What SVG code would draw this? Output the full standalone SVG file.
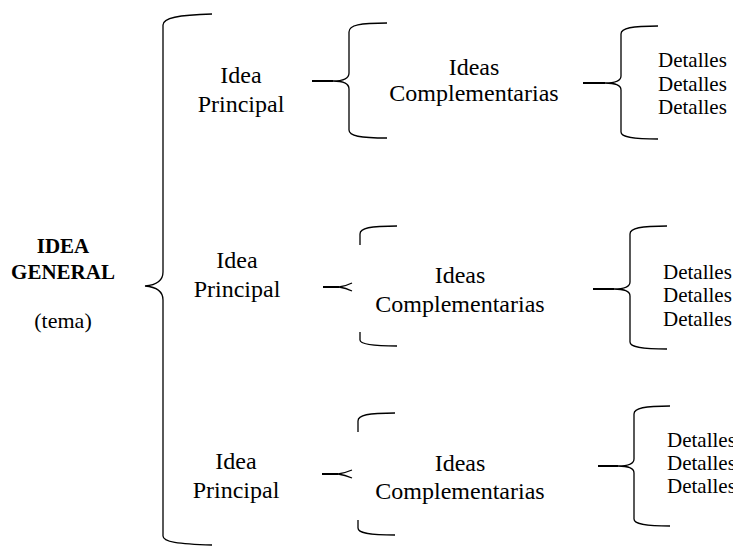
<svg xmlns="http://www.w3.org/2000/svg" width="733" height="549" viewBox="0 0 733 549">
<style>
  .t { font-family: "Liberation Serif", "Times New Roman", serif; font-size: 24px; fill: #000; text-anchor: middle; }
  .b { font-weight: bold; font-size: 21px; }
  .s { font-size: 22px; }
  .d { font-family: "Liberation Serif", "Times New Roman", serif; font-size: 21px; fill: #000; }
  .br { fill: none; stroke: #000; stroke-width: 1.3; }
  .ln { fill: none; stroke: #000; stroke-width: 2; }
</style>
<rect width="733" height="549" fill="#fff"/>
<g id="connectors">
  <!-- main brace -->
  <path class="br" d="M212,14 C178,15 163,18 163,25 L163,272 C163,281 157,285 145,286 C157,287 163,291 163,300 L163,536 C163,542 178,544 212,545"/>
  <!-- brace row 1 -->
  <path class="ln" d="M312,81 L333,81"/>
  <path class="br" d="M387,23 C360,23 349,25 349,32 L349,73 C349,79 343,81 333,81 C343,81 349,83 349,89 L349,130 C349,136 360,138 387,138"/>
  <path class="ln" d="M583,83 L605,83"/>
  <path class="br" d="M658,26 C632,26 621,28 621,34 L621,76 C621,81 615,83 605,83 C615,83 621,85 621,90 L621,132 C621,137 632,139 658,139"/>
  <!-- brace row 2 -->
  <path class="ln" d="M323,287 L339,287"/>
  <path class="br" d="M339,287 Q346,286 352,283 M339,287 Q346,288 352,291"/>
  <path class="br" d="M397,226 C370,226 360,228 360,234 L360,245 M360,332 L360,340 C360,344 370,346 397,346"/>
  <path class="ln" d="M593,289 L614,289"/>
  <path class="br" d="M667,226 C641,226 630,228 630,234 L630,282 C630,287 624,289 614,289 C624,289 630,291 630,296 L630,342 C630,347 641,349 667,349"/>
  <!-- brace row 3 -->
  <path class="ln" d="M322,474 L338,474"/>
  <path class="br" d="M338,474 Q345,473 352,470 M338,474 Q345,475 352,478"/>
  <path class="br" d="M395,413 C368,413 358,415 358,421 L358,432 M358,520 L358,528 C358,533 368,535 395,535"/>
  <path class="ln" d="M598,466 L618,466"/>
  <path class="br" d="M670,406 C645,406 634,408 634,414 L634,459 C634,464 628,466 618,466 C628,466 634,468 634,473 L634,519 C634,524 645,526 670,526"/>
</g>
<g id="idea-general">
  <text class="t b" x="63" y="253">IDEA</text>
  <text class="t b" x="63" y="279">GENERAL</text>
  <text class="t s" x="63" y="328">(tema)</text>
</g>
<g id="idea-principal-1">
  <text class="t" x="241" y="83">Idea</text>
  <text class="t" x="241" y="112">Principal</text>
</g>
<g id="ideas-complementarias-1">
  <text class="t" x="474" y="75">Ideas</text>
  <text class="t" x="474" y="101">Complementarias</text>
</g>
<g id="detalles-1">
  <text class="d" x="658" y="67">Detalles</text>
  <text class="d" x="658" y="91">Detalles</text>
  <text class="d" x="658" y="114">Detalles</text>
</g>
<g id="idea-principal-2">
  <text class="t" x="237" y="268">Idea</text>
  <text class="t" x="237" y="297">Principal</text>
</g>
<g id="ideas-complementarias-2">
  <text class="t" x="460" y="283">Ideas</text>
  <text class="t" x="460" y="312">Complementarias</text>
</g>
<g id="detalles-2">
  <text class="d" x="663" y="279">Detalles</text>
  <text class="d" x="663" y="302">Detalles</text>
  <text class="d" x="663" y="326">Detalles</text>
</g>
<g id="idea-principal-3">
  <text class="t" x="236" y="469">Idea</text>
  <text class="t" x="236" y="498">Principal</text>
</g>
<g id="ideas-complementarias-3">
  <text class="t" x="460" y="471">Ideas</text>
  <text class="t" x="460" y="499">Complementarias</text>
</g>
<g id="detalles-3">
  <text class="d" x="667" y="447">Detalles</text>
  <text class="d" x="667" y="470">Detalles</text>
  <text class="d" x="667" y="493">Detalles</text>
</g>
</svg>
